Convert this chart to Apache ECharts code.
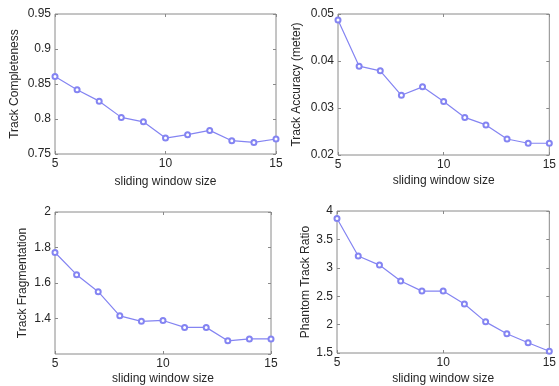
<!DOCTYPE html>
<html>
<head>
<meta charset="utf-8">
<script src="https://cdn.jsdelivr.net/npm/echarts@6/dist/echarts.min.js"></script>
<style>
  html, body { margin: 0; padding: 0; background: #fff; }
  #chart { width: 559px; height: 386px; }
</style>
</head>
<body>
<div id="chart"></div>
<script>
// sliding window sizes on the x axis
const windowSizes = [5, 6, 7, 8, 9, 10, 11, 12, 13, 14, 15];

const completeness = [0.8607, 0.8417, 0.8255, 0.8023, 0.796, 0.7728, 0.7776, 0.7837, 0.769, 0.7666, 0.7714];
const accuracy = [0.0487, 0.0389, 0.0379, 0.0327, 0.0345, 0.0314, 0.0280, 0.0264, 0.0234, 0.0225, 0.0225];
const fragmentation = [1.772, 1.647, 1.551, 1.415, 1.384, 1.389, 1.35, 1.35, 1.274, 1.285, 1.285];
const phantomRatio = [3.869, 3.208, 3.048, 2.768, 2.59, 2.59, 2.363, 2.048, 1.84, 1.68, 1.53];

const panels = [
  { name: "Track Completeness", data: completeness, min: 0.75, max: 0.95, interval: 0.05, digits: 2, nameGap: 34, xGap: 22,
    grid: { left: 55, top: 14, width: 221, height: 140 } },
  { name: "Track Accuracy (meter)", data: accuracy, min: 0.02, max: 0.05, interval: 0.01, digits: 2, nameGap: 35, xGap: 20,
    grid: { left: 338, top: 14, width: 217, height: 141 } },
  { name: "Track Fragmentation", data: fragmentation, min: 1.2, max: 2, interval: 0.2, digits: 1, nameGap: 26, xGap: 19, hideMin: true,
    grid: { left: 55, top: 212, width: 216, height: 142 } },
  { name: "Phantom Track Ratio", data: phantomRatio, min: 1.5, max: 4, interval: 0.5, digits: 1, nameGap: 25, xGap: 20,
    grid: { left: 337, top: 211, width: 218, height: 143 } },
];

const FRAME = "#8a8a8a";
const TEXT = "#262626";
const LINE = "#8484f2";
const FONT = "'Liberation Sans', Arial, sans-serif";

function fmt(v, digits) {
  // MATLAB-like tick text: drop trailing zeros
  return String(parseFloat(v.toFixed(digits)));
}

const grids = [], xAxes = [], yAxes = [], series = [];
panels.forEach((p, i) => {
  grids.push(Object.assign({ show: true, borderColor: FRAME, borderWidth: 1, backgroundColor: "#fff" }, p.grid));
  const tick = { show: true, inside: true, length: 3, lineStyle: { color: FRAME } };
  xAxes.push({
    gridIndex: i, type: "value", min: 5, max: 15, interval: 5,
    name: "sliding window size", nameLocation: "middle", nameGap: p.xGap,
    nameTextStyle: { color: TEXT, fontSize: 12, fontFamily: FONT },
    axisLine: { show: false }, axisTick: tick, splitLine: { show: false },
    axisLabel: { color: TEXT, fontSize: 12, fontFamily: FONT, margin: 4 },
  });
  xAxes.push({
    gridIndex: i, type: "value", min: 5, max: 15, interval: 5, position: "top",
    axisLine: { show: false }, axisTick: tick, splitLine: { show: false }, axisLabel: { show: false },
  });
  yAxes.push({
    gridIndex: i, type: "value", min: p.min, max: p.max, interval: p.interval,
    name: p.name, nameLocation: "middle", nameGap: p.nameGap, nameRotate: 90,
    nameTextStyle: { color: TEXT, fontSize: 12, fontFamily: FONT },
    axisLine: { show: false }, axisTick: tick, splitLine: { show: false },
    axisLabel: { color: TEXT, fontSize: 12, fontFamily: FONT, margin: 4, showMinLabel: !p.hideMin,
      formatter: (v) => fmt(v, p.digits) },
  });
  yAxes.push({
    gridIndex: i, type: "value", min: p.min, max: p.max, interval: p.interval, position: "right",
    axisLine: { show: false }, axisTick: tick, splitLine: { show: false }, axisLabel: { show: false },
  });
  series.push({
    type: "line",
    xAxisIndex: i * 2, yAxisIndex: i * 2,
    data: windowSizes.map((x, k) => [x, p.data[k]]),
    symbol: "emptyCircle", symbolSize: 5,
    lineStyle: { color: LINE, width: 1.2 },
    itemStyle: { color: LINE, borderColor: LINE, borderWidth: 1.2 },
    animation: false,
  });
});

const chart = echarts.init(document.getElementById("chart"), null, { renderer: "canvas" });
chart.setOption({
  backgroundColor: "#fff",
  animation: false,
  grid: grids,
  xAxis: xAxes,
  yAxis: yAxes,
  series: series,
});
</script>
</body>
</html>
